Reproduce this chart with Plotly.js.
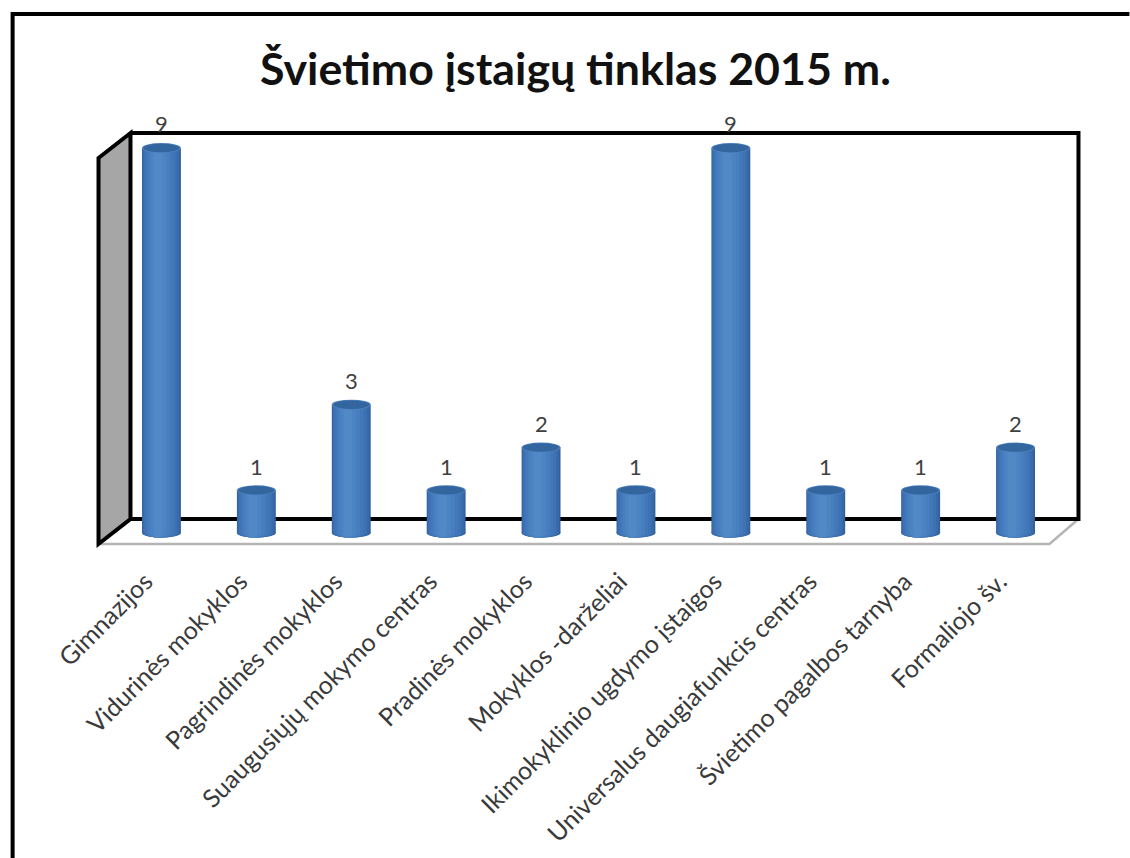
<!DOCTYPE html>
<html><head><meta charset="utf-8">
<script src="https://cdn.plot.ly/plotly-3.0.1.min.js"></script>
<style>html,body{margin:0;padding:0;background:#fff}</style></head>
<body><div id="chart" style="width:1130px;height:858px"></div>
<script>
const categories = ["Gimnazijos","Vidurinės mokyklos","Pagrindinės mokyklos","Suaugusiųjų mokymo centras","Pradinės mokyklos","Mokyklos -darželiai","Ikimokyklinio ugdymo įstaigos","Universalus daugiafunkcis centras","Švietimo pagalbos tarnyba","Formaliojo šv."];
const values = [9,1,3,1,2,1,9,1,1,2];
const chartTitle = "Švietimo įstaigų tinklas 2015 m.";

// cylinder shading: overlaid bars, outer to inner [width, centre shift, colour]
const shadeLayers = [
  [0.410, 0.000, "#33619c"],
  [0.385,-0.006, "#386bab"],
  [0.345,-0.012, "#3d72b3"],
  [0.295,-0.018, "#4278b9"],
  [0.235,-0.024, "#477ebf"],
  [0.165,-0.030, "#4c84c3"],
  [0.090,-0.036, "#5188c6"]
];
const L=113.5, W=950, T=133, BOT=545, UNIT=42.78, ZERO=533;
const px = x => (x-L)/W, py = y => (BOT-y)/(BOT-T);
const P = pts => "M"+pts.map(p=>px(p[0])+","+py(p[1])).join("L");
const paperShape = (path,line,fill)=>({type:"path",xref:"paper",yref:"paper",path,layer:"below",
  line,fillcolor:fill||"rgba(0,0,0,0)"});
const blk={color:"#000",width:4};

const shapes=[
  // slide frame
  paperShape(P([[12,858],[12,14],[1130,14]]),{color:"#000",width:4}),
  // floor
  paperShape(P([[98,544],[130,519],[1079,519],[1050,544]])+"Z",{width:0},"#ffffff"),
  paperShape(P([[98,544],[1050,544],[1079,519]]),{color:"#b5b5b5",width:2.5}),
  // side wall
  paperShape(P([[98,158],[130,133],[130,519],[98,544]])+"Z",blk,"#a6a6a6"),
  // back wall
  paperShape(P([[130,133],[1079,133],[1079,519],[130,519]]),blk)
];
const topR = 5/UNIT, botR = 4.5/UNIT;
categories.forEach((c,i)=>{
  // lower rim (behind the bars) and top cap of every cylinder, from its value
  shadeLayers.forEach(l=>{
    shapes.push({type:"circle",xref:"x",yref:"y",layer:"below",
      x0:i+l[1]-l[0]/2,x1:i+l[1]+l[0]/2,y0:-botR,y1:botR,line:{width:0},fillcolor:l[2]});
  });
  shapes.push({type:"circle",xref:"x",yref:"y",layer:"above",
    x0:i-0.205,x1:i+0.205,y0:values[i]-topR,y1:values[i]+topR,line:{width:0},fillcolor:"#4f82be"});
  shapes.push({type:"circle",xref:"x",yref:"y",layer:"above",
    x0:i-0.19,x1:i+0.19,y0:values[i]-topR*0.85,y1:values[i]+topR*0.85,line:{width:0},fillcolor:"#33659f"});
});

const traces = shadeLayers.map(l=>({
  type:"bar",x:categories.map((c,i)=>i),y:values,
  width:l[0],offset:l[1]-l[0]/2,
  marker:{color:l[2],line:{width:0}},hoverinfo:"skip",showlegend:false
}));

const annotations = categories.map((c,i)=>({
  x:i,y:values[i],text:String(values[i]),showarrow:false,yanchor:"middle",yshift:24,
  font:{family:"Lato, sans-serif",size:22,color:"#404040"}
}));
annotations.push({xref:"paper",yref:"paper",x:px(575),y:py(68),text:"<b>"+chartTitle+"</b>",showarrow:false,
  xanchor:"center",yanchor:"middle",font:{family:"Lato, sans-serif",size:44.7,color:"#111"}});

Plotly.newPlot("chart",traces,{
  width:1130,height:858,
  margin:{l:L,r:1130-L-W,t:T,b:858-BOT,pad:0},
  paper_bgcolor:"#fff",plot_bgcolor:"rgba(0,0,0,0)",
  barmode:"overlay",showlegend:false,
  xaxis:{range:[-0.5,9.5],tickmode:"array",tickvals:categories.map((c,i)=>i),ticktext:categories,
    tickangle:-45,ticks:"",showline:false,showgrid:false,zeroline:false,automargin:false,
    ticklabelstandoff:16,ticklabelshift:-16,
    tickfont:{family:"Lato, sans-serif",size:25,color:"#3a3a3a"}},
  yaxis:{range:[-(BOT-ZERO)/UNIT,(ZERO-T)/UNIT],showticklabels:false,ticks:"",showline:false,showgrid:false,zeroline:false},
  shapes,annotations
},{displayModeBar:false,staticPlot:true});
</script></body></html>
